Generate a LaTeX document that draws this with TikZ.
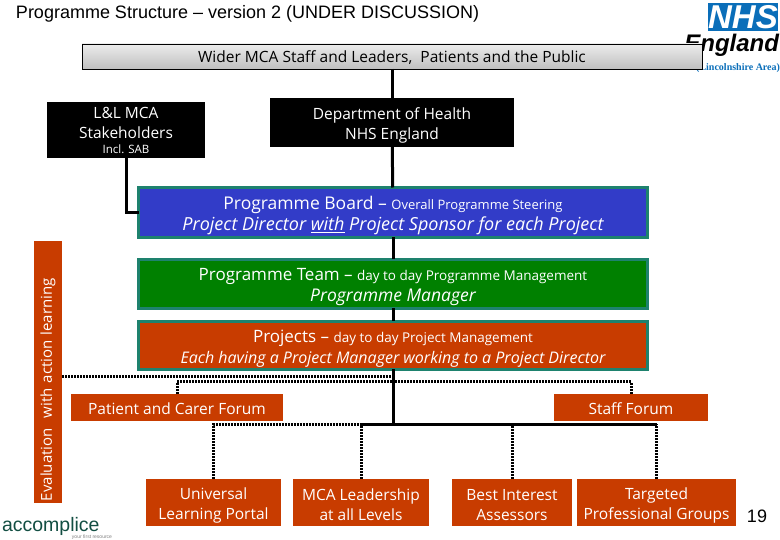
\documentclass[tikz,border=0pt]{standalone}
\usepackage{fontspec}
\setmainfont{Open Sans}
\newfontfamily\arialfont{Liberation Sans}
\newfontfamily\timesfont{Liberation Serif}
\usepackage{xcolor}
\usetikzlibrary{
  arrows.meta,
  positioning,
  calc
}
\definecolor{rust}{RGB}{200,60,0}
\definecolor{tealedge}{RGB}{30,130,110}
\definecolor{boardblue}{RGB}{50,60,200}
\definecolor{teamgreen}{RGB}{0,128,0}
\definecolor{nhsblue}{RGB}{10,110,185}
\begin{document}
\begin{tikzpicture}[
      x=1pt, y=-1pt,
      every node/.style={inner sep=0pt, outer sep=0pt},
      lowered/.style={execute at begin node={\leavevmode\vrule height #1 width 0pt\relax}},
      lowered/.default=15pt,
      blackbox/.style={lowered, fill=black, text=white, align=center, font=\fontsize{15.5}{20}\selectfont},
      rustbox/.style={lowered, fill=rust, text=white, align=center, font=\fontsize{15.5}{20}\selectfont},
      tierbox/.style={lowered=40pt, draw=tealedge, line width=3pt, text=white, align=center,
                    minimum width=509pt, font=\fontsize{16}{21}\selectfont},
      firmline/.style={line width=3pt, black},
      dotline/.style={line width=3pt, black, dash pattern=on 2pt off 1pt}
  ]
      \useasboundingbox (0,0) rectangle (780,540);

      % Titel und Logos
      \node[anchor=west, font=\arialfont\fontsize{18}{20}\selectfont] (title) at (16,13.5)
           {Programme Structure – version 2 (UNDER DISCUSSION)};
      \node[fill=nhsblue, text=white, minimum width=70pt, minimum height=28pt,
            font=\arialfont\bfseries\itshape\fontsize{33}{33}\selectfont] (nhs) at (743,17) {NHS};
      \node[anchor=east, font=\arialfont\bfseries\itshape\fontsize{24}{24}\selectfont] (england) at (779,45) {England};
      \node[anchor=east, text=nhsblue, font=\timesfont\bfseries\fontsize{10}{10}\selectfont] (area) at (780,68)
           {(Lincolnshire Area)};
      \node[anchor=west, text=tealedge!60!black, font=\arialfont\fontsize{19.5}{20}\selectfont] (accomplice) at (2,526) {accomplice};
      \node[anchor=east, text=gray, font=\arialfont\fontsize{5}{5}\selectfont] (resource) at (112,537) {your first resource};

      % Kaesten
      \node[lowered, draw=black, top color=gray!15, bottom color=gray!50, minimum width=620pt, minimum height=25pt,
            font=\fontsize{15.5}{20}\selectfont] (wider) at (392,56.5) {Wider MCA Staff and Leaders,\ \ Patients and the Public};
      \node[blackbox, minimum width=158pt, minimum height=56pt] (lnl) at (126,130)
           {L\&L MCA\\Stakeholders\\[-5pt]{\fontsize{11.5}{13}\selectfont Incl. SAB}};
      \node[blackbox, lowered=37pt, minimum width=244pt, minimum height=49pt] (dept) at (392,122.5)
           {Department of Health\\NHS England};
      \node[tierbox, fill=boardblue, minimum height=50pt] (board) at (393,212.5)
           {\fontsize{17.5}{21}\selectfont Programme Board – {\fontsize{13}{15}\selectfont Overall Programme Steering}\\
            \fontsize{18}{21}\selectfont\itshape Project Director \underline{with} Project Sponsor for each Project};
      \node[tierbox, fill=teamgreen, minimum height=49pt] (team) at (393,284)
           {\fontsize{17}{21}\selectfont Programme Team – {\fontsize{13.5}{15}\selectfont day to day Programme Management}\\
            \fontsize{17.5}{21}\selectfont\itshape Programme Manager};
      \node[tierbox, fill=rust, minimum height=48pt] (projects) at (393,345.5)
           {\fontsize{17}{21}\selectfont Projects – {\fontsize{13.5}{15}\selectfont day to day Project Management}\\
            \itshape Each having a Project Manager working to a Project Director};
      \node[fill=rust, text=white, rotate=90, minimum width=262pt, minimum height=28pt,
            text width=258pt, align=left, font=\fontsize{15}{18}\selectfont] (evaluation) at (48,372)
           {Evaluation\ \ with action learning};
      \node[rustbox, minimum width=212pt, minimum height=27pt] (patient) at (177,407.5) {Patient and Carer Forum};
      \node[rustbox, minimum width=154pt, minimum height=27pt] (staff) at (631,407.5) {Staff Forum};
      \node[rustbox, lowered=37pt, minimum width=135pt, minimum height=47pt] (portal) at (213.5,502.5) {Universal\\Learning Portal};
      \node[rustbox, lowered=37pt, minimum width=136pt, minimum height=47pt] (leaders) at (361,502.5) {MCA Leadership\\at all Levels};
      \node[rustbox, lowered=37pt, minimum width=120pt, minimum height=47pt] (assessors) at (512,502.5) {Best Interest\\Assessors};
      \node[rustbox, lowered=37pt, minimum width=159pt, minimum height=47pt] (groups) at (656.5,502.5) {Targeted\\Professional Groups};
      \node[font=\arialfont\fontsize{18}{18}\selectfont] (pagenum) at (757,516) {19};

      % Hilfspunkte
      \coordinate (evalout) at (62,377);
      \coordinate (evaljoin) at (393,377);
      \coordinate (forumbar) at (393,382);
      \coordinate (bus) at (393,424);

      % Durchgezogene Linien
      \draw[firmline] (wider) -- (dept);
      \draw[firmline] (dept) -- (board);
      \draw[firmline] (board) -- (team);
      \draw[firmline] (team) -- (projects);
      \draw[firmline] (projects) -- (bus);
      \draw[firmline] (lnl.south) |- (board.west);
      \draw[firmline] (leaders.north |- bus) -- (groups.north |- bus);

      % Gepunktete Linien
      \draw[dotline] (evalout) -- (evaljoin);
      \draw[dotline] (patient.north) |- (forumbar);
      \draw[dotline] (staff.north) |- (forumbar);
      \draw[dotline] (portal.north) |- (leaders.north |- bus);
      \draw[dotline] (leaders.north) -- (leaders.north |- bus);
      \draw[dotline] (assessors.north) -- (assessors.north |- bus);
      \draw[dotline] (groups.north) -- (groups.north |- bus);
  \end{tikzpicture}
\end{document}
